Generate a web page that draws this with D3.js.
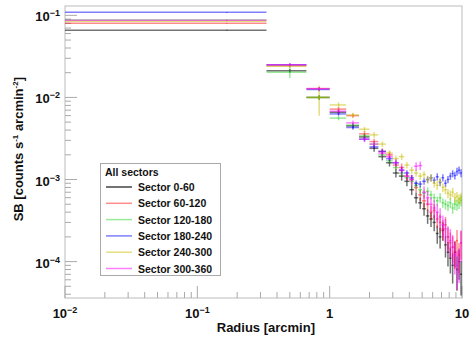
<!DOCTYPE html>
<meta charset="utf-8">
<style>
    body { margin: 0; background: white; }
    text { font-family: "Liberation Sans", Helvetica, Arial, sans-serif; }
    .tickLabel { font-size: 13px; font-weight: bold; fill: #111; }
    .axisTitle { font-size: 13px; font-weight: bold; fill: #111; }
    .legendText { font-size: 10.5px; font-weight: bold; fill: #111; }
</style>
<body>
<script src="https://cdn.jsdelivr.net/npm/d3@7/dist/d3.min.js"></script>
<script>
// radial bins, 1/3 arcmin wide, 0 to 10 arcmin
var binLo = [0, 0.333, 0.667, 1, 1.333, 1.667, 2, 2.333, 2.667, 3, 3.333, 3.667, 4, 4.333, 4.667,
             5, 5.333, 5.667, 6, 6.333, 6.667, 7, 7.333, 7.667, 8, 8.333, 8.667, 9, 9.333, 9.667];
var binHi = [0.333, 0.667, 1, 1.333, 1.667, 2, 2.333, 2.667, 3, 3.333, 3.667, 4, 4.333, 4.667, 5,
             5.333, 5.667, 6, 6.333, 6.667, 7, 7.333, 7.667, 8, 8.333, 8.667, 9, 9.333, 9.667, 10];
var binMid = [0.167, 0.5, 0.833, 1.167, 1.5, 1.833, 2.167, 2.5, 2.833, 3.167, 3.5, 3.833, 4.167, 4.5, 4.833,
              5.167, 5.5, 5.833, 6.167, 6.5, 6.833, 7.167, 7.5, 7.833, 8.167, 8.5, 8.833, 9.167, 9.5, 9.833];

var sectorNames = ["Sector 0-60", "Sector 60-120", "Sector 120-180", "Sector 180-240", "Sector 240-300", "Sector 300-360"];

var sb0 = [0.066, 0.0212, 0.0100, 0.0066, 0.0045, 0.0033, 0.0024, 0.0019, 0.0016, 0.0012, 0.0011, 0.00095, 0.00075, 0.00060, 0.00052,
           0.00044, 0.00036, 0.00033, 0.00030, 0.00022, 0.00020, 0.00024, 0.00016, 0.00013, 0.00011, 0.00009, 0.00013, 0.00008, 0.00010, 0.00007];
var sb1 = [0.080, 0.0245, 0.0128, 0.0072, 0.0060, 0.0036, 0.0029, 0.0022, 0.0020, 0.0015, 0.0014, 0.0011, 0.0010, 0.00080, 0.00065,
           0.00055, 0.00050, 0.00040, 0.00042, 0.00033, 0.00030, 0.00025, 0.00028, 0.00020, 0.00017, 0.00015, 0.00013, 0.00018, 0.00012, 0.00017];
var sb2 = [0.088, 0.0203, 0.0100, 0.0056, 0.0046, 0.0034, 0.0027, 0.0020, 0.0017, 0.0014, 0.0012, 0.00105, 0.00095, 0.00085, 0.00075,
           0.00068, 0.00072, 0.00065, 0.00060, 0.00055, 0.00060, 0.00052, 0.00050, 0.00048, 0.00052, 0.00045, 0.00050, 0.00049, 0.00052, 0.00056];
var sb3 = [0.109, 0.0250, 0.0125, 0.0063, 0.0043, 0.0031, 0.0025, 0.0022, 0.0018, 0.0016, 0.0013, 0.0012, 0.00105, 0.00090, 0.00088,
           0.00095, 0.00100, 0.00105, 0.00098, 0.00108, 0.00092, 0.00105, 0.00090, 0.00100, 0.00110, 0.00118, 0.00112, 0.00125, 0.00130, 0.00120];
var sb4 = [0.085, 0.0240, 0.0100, 0.0081, 0.0061, 0.0041, 0.0035, 0.0027, 0.0021, 0.0018, 0.0019, 0.0015, 0.0013, 0.0012, 0.00110,
           0.00115, 0.00100, 0.00105, 0.00090, 0.00085, 0.00095, 0.00080, 0.00075, 0.00068, 0.00065, 0.00070, 0.00060, 0.00062, 0.00058, 0.00060];
var sb5 = [0.087, 0.0250, 0.0128, 0.0068, 0.0049, 0.0031, 0.0027, 0.0021, 0.0019, 0.0016, 0.0013, 0.0011, 0.0010, 0.00145, 0.00148,
           0.00070, 0.00060, 0.00050, 0.00045, 0.00040, 0.00035, 0.00028, 0.00025, 0.00020, 0.00018, 0.00015, 0.00012, 0.00009, 0.00010, 0.00017];

// fractional errors on SB
var err0 = [0.01, 0.05, 0.06, 0.06, 0.07, 0.08, 0.09, 0.10, 0.10, 0.12, 0.12, 0.13, 0.14, 0.15, 0.16,
            0.18, 0.20, 0.20, 0.22, 0.25, 0.28, 0.25, 0.30, 0.33, 0.35, 0.40, 0.35, 0.45, 0.40, 0.45];
var err1 = [0.01, 0.04, 0.05, 0.06, 0.06, 0.08, 0.08, 0.09, 0.10, 0.11, 0.12, 0.12, 0.13, 0.14, 0.15,
            0.17, 0.18, 0.20, 0.20, 0.22, 0.25, 0.28, 0.25, 0.30, 0.33, 0.35, 0.38, 0.35, 0.40, 0.38];
var err2 = [0.01, 0.15, 0.06, 0.06, 0.06, 0.07, 0.07, 0.08, 0.08, 0.09, 0.09, 0.10, 0.10, 0.10, 0.11,
            0.11, 0.12, 0.12, 0.12, 0.13, 0.13, 0.13, 0.14, 0.14, 0.14, 0.15, 0.15, 0.15, 0.16, 0.16];
var err3 = [0.01, 0.04, 0.05, 0.05, 0.06, 0.06, 0.06, 0.07, 0.07, 0.07, 0.08, 0.08, 0.08, 0.08, 0.09,
            0.09, 0.09, 0.09, 0.09, 0.10, 0.10, 0.10, 0.10, 0.10, 0.10, 0.10, 0.11, 0.11, 0.11, 0.11];
var err4 = [0.01, 0.05, 0.40, 0.08, 0.07, 0.07, 0.08, 0.08, 0.08, 0.09, 0.09, 0.09, 0.10, 0.10, 0.10,
            0.10, 0.11, 0.11, 0.11, 0.12, 0.12, 0.12, 0.12, 0.13, 0.13, 0.13, 0.14, 0.14, 0.14, 0.15];
var err5 = [0.01, 0.04, 0.05, 0.06, 0.07, 0.08, 0.09, 0.10, 0.10, 0.11, 0.12, 0.13, 0.14, 0.12, 0.12,
            0.18, 0.20, 0.22, 0.24, 0.25, 0.28, 0.30, 0.32, 0.35, 0.38, 0.40, 0.42, 0.50, 0.45, 0.42];

var sectorColors = ["rgba(0,0,0,0.55)", "rgba(255,0,0,0.45)", "rgba(0,200,0,0.4)",
                    "rgba(0,0,255,0.5)", "rgba(200,190,0,0.5)", "rgba(255,0,255,0.5)"];

var xTickLabels = [{v: 0.01, base: "10", exp: "\u22122"}, {v: 0.1, base: "10", exp: "\u22121"},
                   {v: 1, base: "1", exp: ""}, {v: 10, base: "10", exp: ""}];
var yTickLabels = [{v: 1e-4, base: "10", exp: "\u22124"}, {v: 1e-3, base: "10", exp: "\u22123"},
                   {v: 1e-2, base: "10", exp: "\u22122"}, {v: 1e-1, base: "10", exp: "\u22121"}];

var allSB = [sb0, sb1, sb2, sb3, sb4, sb5];
var allErr = [err0, err1, err2, err3, err4, err5];

var width = 474, height = 339;
var padL = 65, padR = 462, padT = 6, padB = 298;

var svg = d3.select("body").append("svg")
    .attr("width", width)
    .attr("height", height);

var x = d3.scaleLog().domain([0.01, 10]).range([padL, padR]);
var y = d3.scaleLog().domain([3.6e-5, 0.13]).range([padB, padT]);

// frame
svg.append("rect")
    .attr("x", padL).attr("y", padT)
    .attr("width", padR - padL).attr("height", padB - padT)
    .attr("fill", "none").attr("stroke", "#bbb").attr("stroke-width", 1);

// ticks, ROOT style (inside the frame)
function logTicks(lo, hi) {
    var major = [], minor = [];
    for (var e = Math.floor(Math.log10(lo)); e <= Math.ceil(Math.log10(hi)); e++) {
        for (var m = 1; m < 10; m++) {
            var v = m * Math.pow(10, e);
            if (v < lo * 0.999 || v > hi * 1.001) continue;
            if (m == 1) major.push(v); else minor.push(v);
        }
    }
    return {major: major, minor: minor};
}

var xt = logTicks(0.01, 10);
var yt = logTicks(3.6e-5, 0.13);

var tickG = svg.append("g").attr("stroke", "#aaa").attr("stroke-width", 1);
xt.major.forEach(function(v) {
    tickG.append("line").attr("x1", x(v)).attr("x2", x(v)).attr("y1", padB).attr("y2", padB - 12);
});
xt.minor.forEach(function(v) {
    tickG.append("line").attr("x1", x(v)).attr("x2", x(v)).attr("y1", padB).attr("y2", padB - 6);
});
yt.major.forEach(function(v) {
    tickG.append("line").attr("x1", padL).attr("x2", padL + 12).attr("y1", y(v)).attr("y2", y(v));
});
yt.minor.forEach(function(v) {
    tickG.append("line").attr("x1", padL).attr("x2", padL + 6).attr("y1", y(v)).attr("y2", y(v));
});

// tick labels
xTickLabels.forEach(function(d) {
    var t = svg.append("text").attr("class", "tickLabel")
        .attr("x", x(d.v)).attr("y", 318)
        .attr("text-anchor", "middle");
    t.append("tspan").text(d.base);
    if (d.exp) t.append("tspan").attr("dy", -5).attr("font-size", "9px").text(d.exp);
});
yTickLabels.forEach(function(d) {
    var t = svg.append("text").attr("class", "tickLabel")
        .attr("x", 60).attr("y", y(d.v) + 6)
        .attr("text-anchor", "end");
    t.append("tspan").text(d.base);
    if (d.exp) t.append("tspan").attr("dy", -5).attr("font-size", "9px").text(d.exp);
});

// axis titles
svg.append("text").attr("class", "axisTitle")
    .attr("x", 315).attr("y", 332)
    .attr("text-anchor", "end")
    .text("Radius [arcmin]");

var yTitle = svg.append("text").attr("class", "axisTitle")
    .attr("transform", "translate(23,77) rotate(-90)")
    .attr("text-anchor", "end");
yTitle.append("tspan").text("SB [counts s");
yTitle.append("tspan").attr("dy", -5).attr("font-size", "8px").text("-1");
yTitle.append("tspan").attr("dy", 5).text(" arcmin");
yTitle.append("tspan").attr("dy", -5).attr("font-size", "8px").text("-2");
yTitle.append("tspan").attr("dy", 5).text("]");

// data points: bin-wide horizontal bar + vertical error bar
allSB.forEach(function(sb, s) {
    var g = svg.append("g")
        .attr("stroke", sectorColors[s])
        .attr("stroke-width", 1.5);
    var pts = sb.map(function(v, i) {
        return {lo: Math.max(binLo[i], 0.01), hi: binHi[i], mid: binMid[i], v: v, e: v * allErr[s][i]};
    });
    g.selectAll(".hbar").data(pts).enter().append("line")
        .attr("x1", function(d) { return x(d.lo); })
        .attr("x2", function(d) { return x(d.hi); })
        .attr("y1", function(d) { return y(d.v); })
        .attr("y2", function(d) { return y(d.v); });
    g.selectAll(".vbar").data(pts).enter().append("line")
        .attr("x1", function(d) { return x(d.mid); })
        .attr("x2", function(d) { return x(d.mid); })
        .attr("y1", function(d) { return y(d.v + d.e); })
        .attr("y2", function(d) { return y(d.v - d.e); });
});

// legend
var lg = svg.append("g");
lg.append("rect")
    .attr("x", 100.5).attr("y", 163.5).attr("width", 120).attr("height", 112)
    .attr("fill", "white").attr("stroke", "#aaa").attr("stroke-width", 1);
lg.append("text").attr("class", "legendText")
    .attr("x", 105).attr("y", 175.5).text("All sectors");
sectorNames.forEach(function(name, i) {
    var yy = 187 + i * 16.3;
    lg.append("line")
        .attr("x1", 106).attr("x2", 132).attr("y1", yy).attr("y2", yy)
        .attr("stroke", sectorColors[i]).attr("stroke-width", i == 0 ? 2 : 1.5);
    lg.append("text").attr("class", "legendText")
        .attr("x", 138).attr("y", yy + 4).text(name);
});
</script>
